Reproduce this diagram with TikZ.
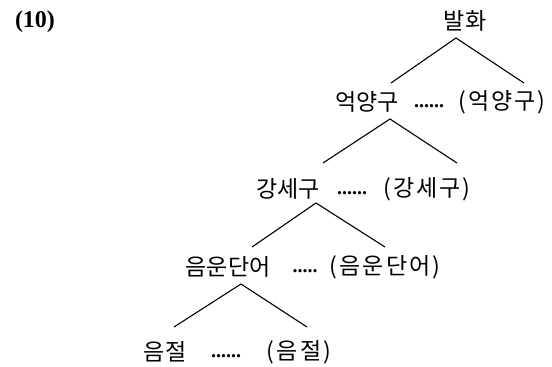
\documentclass[tikz,border=0pt]{standalone}
\usepackage{fontspec}
\setmainfont{Liberation Serif}
\newfontfamily\krfont{Noto Sans CJK KR}
\newfontfamily\kroptfont[LetterSpace=9]{Noto Sans CJK KR}
\usetikzlibrary{positioning}

\begin{document}
\begin{tikzpicture}[
    x=1pt, y=-1pt,
    lbl/.style={font=\krfont\fontsize{23}{27}\selectfont, inner sep=0},
    optlbl/.style={font=\kroptfont\fontsize{23}{27}\selectfont, inner sep=0},
    dots/.style={font=\bfseries\fontsize{20}{24}\selectfont, inner sep=0},
    branch/.style={line width=1.1pt},
  ]
  \useasboundingbox (0,0) rectangle (552,367);

  % example number
  \node[font=\bfseries\fontsize{24}{28}\selectfont, inner sep=0] (num) at (35,22) {(10)};

  % top node
  \node[lbl] (utt) at (465,21) {발화};

  % intonation phrase row
  \node[lbl] (ip) at (367,102) {억양구};
  \node[dots] (ipdots) at (429,106) {......};
  \node[optlbl] (ipopt) at (502,102) {(억양구)};

  % accentual phrase row
  \node[lbl] (ap) at (288,189) {강세구};
  \node[dots] (apdots) at (352,193) {......};
  \node[optlbl] (apopt) at (427,189) {(강세구)};

  % phonological word row
  \node[lbl] (pw) at (228,267) {음운단어};
  \node[dots] (pwdots) at (305,271) {.....};
  \node[optlbl] (pwopt) at (385,267) {(음운단어)};

  % syllable row
  \node[lbl] (syl) at (165,352) {음절};
  \node[dots] (syldots) at (226,356) {......};
  \node[optlbl] (sylopt) at (299,352) {(음절)};

  % branch points
  \coordinate (uttT) at (456,38);
  \coordinate (uttL) at (391,83);
  \coordinate (uttR) at (524,83);
  \coordinate (ipT) at (390,119);
  \coordinate (ipL) at (323,163);
  \coordinate (ipR) at (457,163);
  \coordinate (apT) at (316,203);
  \coordinate (apL) at (252,247);
  \coordinate (apR) at (385,247);
  \coordinate (pwT) at (241,284);
  \coordinate (pwL) at (174,327);
  \coordinate (pwR) at (307,327);

  % branches
  \draw[branch] (uttL) -- (uttT) -- (uttR);
  \draw[branch] (ipL) -- (ipT) -- (ipR);
  \draw[branch] (apL) -- (apT) -- (apR);
  \draw[branch] (pwL) -- (pwT) -- (pwR);

\end{tikzpicture}
\end{document}
